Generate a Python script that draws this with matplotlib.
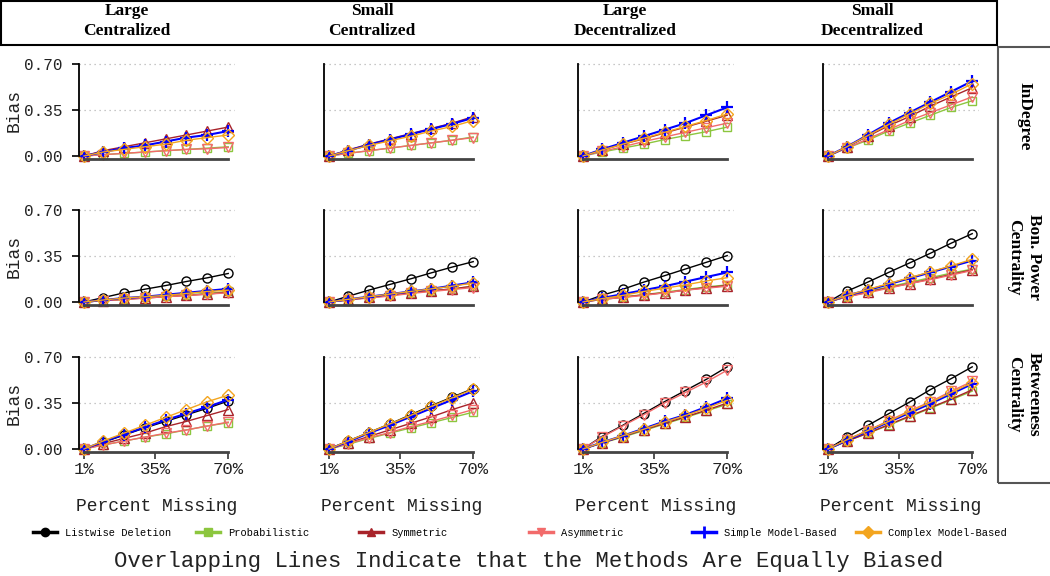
import matplotlib
matplotlib.use("Agg")
import matplotlib.pyplot as plt
from matplotlib.lines import Line2D
from matplotlib.patches import Rectangle

nan = float("nan")

pct_missing = [1, 10, 20, 30, 40, 50, 60, 70]
networks = ["Large\nCentralized", "Small\nCentralized", "Large\nDecentralized", "Small\nDecentralized"]
measures = ["InDegree", "Bon. Power\nCentrality", "Betweeness\nCentrality"]
methods = ["Listwise Deletion", "Probabilistic", "Symmetric", "Asymmetric",
           "Simple Model-Based", "Complex Model-Based"]
y_ticks = [0.0, 0.35, 0.70]
x_ticks = [1, 35, 70]
x_ticklabels = ["1%", "35%", "70%"]

# bias values: [measure row][network column] -> one value per percent missing
listwise = [
    [[nan] * 8, [nan] * 8, [nan] * 8, [nan] * 8],
    [[0, 0.033, 0.069, 0.097, 0.125, 0.156, 0.184, 0.217],
     [0, 0.043, 0.090, 0.133, 0.176, 0.222, 0.266, 0.307],
     [0, 0.051, 0.097, 0.151, 0.200, 0.251, 0.302, 0.353],
     [0, 0.082, 0.151, 0.225, 0.297, 0.371, 0.448, 0.520]],
    [[0, 0.050, 0.105, 0.160, 0.210, 0.260, 0.310, 0.365],
     [0, 0.060, 0.125, 0.190, 0.260, 0.330, 0.395, 0.460],
     [0, 0.095, 0.180, 0.270, 0.360, 0.445, 0.530, 0.625],
     [0, 0.089, 0.179, 0.268, 0.357, 0.452, 0.536, 0.625]],
]
probabilistic = [
    [[0, 0.010, 0.020, 0.030, 0.040, 0.050, 0.060, 0.070],
     [0, 0.020, 0.040, 0.060, 0.080, 0.100, 0.120, 0.145],
     [0, 0.030, 0.060, 0.090, 0.125, 0.155, 0.185, 0.220],
     [0, 0.060, 0.120, 0.190, 0.250, 0.310, 0.370, 0.420]],
    [[0, 0.010, 0.020, 0.035, 0.045, 0.055, 0.065, 0.080],
     [0, 0.015, 0.035, 0.050, 0.070, 0.085, 0.100, 0.120],
     [0, 0.020, 0.040, 0.055, 0.075, 0.095, 0.115, 0.130],
     [0, 0.040, 0.080, 0.115, 0.150, 0.185, 0.220, 0.250]],
    [[0, 0.030, 0.060, 0.090, 0.115, 0.145, 0.175, 0.200],
     [0, 0.035, 0.080, 0.120, 0.160, 0.200, 0.240, 0.280],
     [0, 0.045, 0.090, 0.140, 0.190, 0.240, 0.290, 0.340],
     [0, 0.060, 0.120, 0.180, 0.245, 0.310, 0.375, 0.440]],
]
symmetric = [
    [[0, 0.040, 0.070, 0.100, 0.130, 0.160, 0.190, 0.220],
     [0, 0.045, 0.090, 0.130, 0.170, 0.210, 0.250, 0.300],
     [0, 0.045, 0.090, 0.130, 0.175, 0.220, 0.265, 0.310],
     [0, 0.070, 0.150, 0.230, 0.300, 0.380, 0.450, 0.520]],
    [[0, 0.010, 0.020, 0.030, 0.040, 0.050, 0.060, 0.075],
     [0, 0.015, 0.035, 0.050, 0.070, 0.085, 0.100, 0.120],
     [0, 0.020, 0.035, 0.055, 0.070, 0.090, 0.110, 0.125],
     [0, 0.040, 0.075, 0.110, 0.140, 0.175, 0.210, 0.245]],
    [[0, 0.040, 0.080, 0.120, 0.170, 0.210, 0.255, 0.300],
     [0, 0.045, 0.095, 0.145, 0.195, 0.245, 0.300, 0.350],
     [0, 0.045, 0.095, 0.145, 0.195, 0.245, 0.295, 0.350],
     [0, 0.060, 0.120, 0.185, 0.250, 0.315, 0.380, 0.450]],
]
asymmetric = [
    [[0, 0.010, 0.020, 0.030, 0.040, 0.050, 0.055, 0.065],
     [0, 0.020, 0.040, 0.060, 0.080, 0.100, 0.120, 0.140],
     [0, 0.035, 0.070, 0.110, 0.145, 0.180, 0.215, 0.250],
     [0, 0.060, 0.130, 0.200, 0.270, 0.330, 0.390, 0.450]],
    [[0, 0.010, 0.020, 0.030, 0.040, 0.050, 0.060, 0.070],
     [0, 0.015, 0.030, 0.045, 0.065, 0.080, 0.095, 0.110],
     [0, 0.020, 0.035, 0.050, 0.070, 0.090, 0.105, 0.120],
     [0, 0.040, 0.070, 0.105, 0.140, 0.170, 0.205, 0.240]],
    [[0, 0.030, 0.060, 0.090, 0.120, 0.145, 0.175, 0.205],
     [0, 0.040, 0.085, 0.125, 0.170, 0.210, 0.255, 0.300],
     [0, 0.090, 0.175, 0.260, 0.350, 0.430, 0.510, 0.600],
     [0, 0.070, 0.140, 0.215, 0.290, 0.360, 0.440, 0.515]],
]
simple_model = [
    [[0, 0.030, 0.060, 0.080, 0.110, 0.140, 0.160, 0.190],
     [0, 0.040, 0.085, 0.125, 0.165, 0.205, 0.245, 0.290],
     [0, 0.050, 0.100, 0.150, 0.200, 0.250, 0.310, 0.370],
     [0, 0.070, 0.160, 0.250, 0.330, 0.410, 0.490, 0.570]],
    [[0, 0.015, 0.030, 0.040, 0.055, 0.070, 0.085, 0.100],
     [0, 0.020, 0.040, 0.060, 0.080, 0.100, 0.125, 0.150],
     [0, 0.030, 0.060, 0.090, 0.120, 0.155, 0.190, 0.225],
     [0, 0.050, 0.090, 0.135, 0.180, 0.225, 0.270, 0.315]],
    [[0, 0.055, 0.110, 0.165, 0.220, 0.270, 0.320, 0.375],
     [0, 0.055, 0.120, 0.180, 0.245, 0.310, 0.375, 0.440],
     [0, 0.050, 0.100, 0.155, 0.210, 0.260, 0.320, 0.385],
     [0, 0.065, 0.135, 0.205, 0.275, 0.345, 0.420, 0.495]],
]
complex_model = [
    [[0, 0.030, 0.050, 0.070, 0.090, 0.120, 0.140, 0.160],
     [0, 0.040, 0.080, 0.115, 0.150, 0.190, 0.225, 0.270],
     [0, 0.045, 0.090, 0.135, 0.180, 0.225, 0.270, 0.320],
     [0, 0.070, 0.155, 0.240, 0.320, 0.400, 0.470, 0.550]],
    [[0, 0.015, 0.030, 0.040, 0.050, 0.065, 0.080, 0.090],
     [0, 0.020, 0.040, 0.060, 0.080, 0.100, 0.120, 0.145],
     [0, 0.025, 0.050, 0.080, 0.105, 0.130, 0.160, 0.185],
     [0, 0.050, 0.095, 0.140, 0.185, 0.230, 0.275, 0.325]],
    [[0, 0.060, 0.120, 0.180, 0.240, 0.300, 0.360, 0.410],
     [0, 0.060, 0.125, 0.190, 0.255, 0.325, 0.390, 0.455],
     [0, 0.050, 0.100, 0.150, 0.205, 0.255, 0.310, 0.370],
     [0, 0.070, 0.140, 0.210, 0.285, 0.355, 0.430, 0.505]],
]

series = [listwise, probabilistic, symmetric, asymmetric, simple_model, complex_model]
colors = ["black", "#8CC63E", "#A8232A", "#F26B6B", "#0000FF", "#F3A51F"]
markers = ["o", "s", "^", "v", "+", "D"]
msizes = [6.5, 6, 7.5, 7.5, 9, 6]

mono = "Liberation Mono"
serif = "Liberation Serif"

W, H = 1050, 576
fig = plt.figure(figsize=(W / 100, H / 100), dpi=100)

# panel geometry in pixels
col_x = [79, 324, 578, 823]
zero_y = [156, 302, 449]
xlim = (-1.4, 73.3)
ylim = (-0.023, 0.72)
px_x = 2.09
px_y = 92 / 0.7
ax_w = (xlim[1] - xlim[0]) * px_x
ax_h = (ylim[1] - ylim[0]) * px_y

for r in range(3):
    for c in range(4):
        bottom = zero_y[r] - ylim[0] * px_y
        ax = fig.add_axes([col_x[c] / W, 1 - bottom / H, ax_w / W, ax_h / H])
        for s, col, m, ms in zip(series, colors, markers, msizes):
            ax.plot(pct_missing, s[r][c], color=col, marker=m, ms=ms,
                    mfc="none", mec=col, mew=1.6 if m == "+" else 1.0,
                    lw=1.5 if m == "+" else 1.0, clip_on=False)
        ax.set_xlim(*xlim)
        ax.set_ylim(*ylim)
        for side in ["top", "right"]:
            ax.spines[side].set_visible(False)
        ax.spines["left"].set_bounds(0, 0.70)
        ax.spines["left"].set_linewidth(1.3)
        ax.spines["bottom"].set_bounds(1, 70)
        ax.spines["bottom"].set_linewidth(2)
        ax.spines["bottom"].set_color("#444444")

        ax.set_yticks(y_ticks)
        ax.yaxis.grid(True, linestyle=(0, (1, 3)), color="#b5b5b5", lw=0.9)
        ax.yaxis.get_gridlines()[0].set_visible(False)
        ax.set_axisbelow(True)
        if c == 0:
            ax.set_yticklabels(["%.2f" % v for v in y_ticks], family=mono, fontsize=11.5)
            ax.tick_params(axis="y", length=5, width=1.2, pad=7, colors="black",
                           labelcolor="#222222")
            ax.set_ylabel("Bias", family=mono, fontsize=13, labelpad=1, color="#222222")
        else:
            ax.tick_params(axis="y", length=0, labelleft=False)

        ax.set_xticks(x_ticks)
        if r == 2:
            ax.set_xticklabels(x_ticklabels, family=mono, fontsize=12.5, color="#222222")
            ax.tick_params(axis="x", length=5, width=1.3, pad=2, color="#444444")
            ax.set_xlabel("Percent Missing", family=mono, fontsize=13, labelpad=15,
                          color="#222222")
        else:
            ax.tick_params(axis="x", length=0, labelbottom=False)

# top strip with network types
fig.add_artist(Rectangle((1 / W, 1 - 45 / H), 995.7 / W, 44 / H, transform=fig.transFigure,
                         fill=False, ec="black", lw=1.5))
for x, name in zip([127, 372, 625, 872], networks):
    fig.text(x / W, 1 - 21 / H, name, ha="center", va="center", family=serif,
             fontweight="bold", fontsize=12.5, linespacing=1.3)

# right strip with measures
fig.add_artist(Rectangle((998 / W, 1 - 483 / H), 70 / W, (483 - 46.5) / H,
                         transform=fig.transFigure, fill=False, ec="#555555", lw=1.5))
for y, name in zip([116, 257, 394], measures):
    fig.text(1024 / W, 1 - y / H, name, ha="center", va="center", rotation=-90,
             family=serif, fontweight="bold", fontsize=12.5, linespacing=1.35)

# legend, one fixed-width slot per method
for x, name, col, m in zip([33, 196, 359, 529, 692, 856], methods, colors, markers):
    h = Line2D([], [], color=col, marker=m, ms=6 if m != "+" else 9, mfc=col, mec=col,
               lw=2.5, mew=2 if m == "+" else 1)
    fig.legend(handles=[h], labels=[name], loc="center left",
               bbox_to_anchor=(x / W, 1 - 533 / H), frameon=False,
               prop={"family": mono, "size": 7.5}, handlelength=2.3,
               handletextpad=0.8, borderpad=0, borderaxespad=0)

fig.text(529 / W, 1 - 562 / H, "Overlapping Lines Indicate that the Methods Are Equally Biased",
         ha="center", va="center", family=mono, fontsize=16, color="#222222")

fig.savefig("out.png", dpi=100)
